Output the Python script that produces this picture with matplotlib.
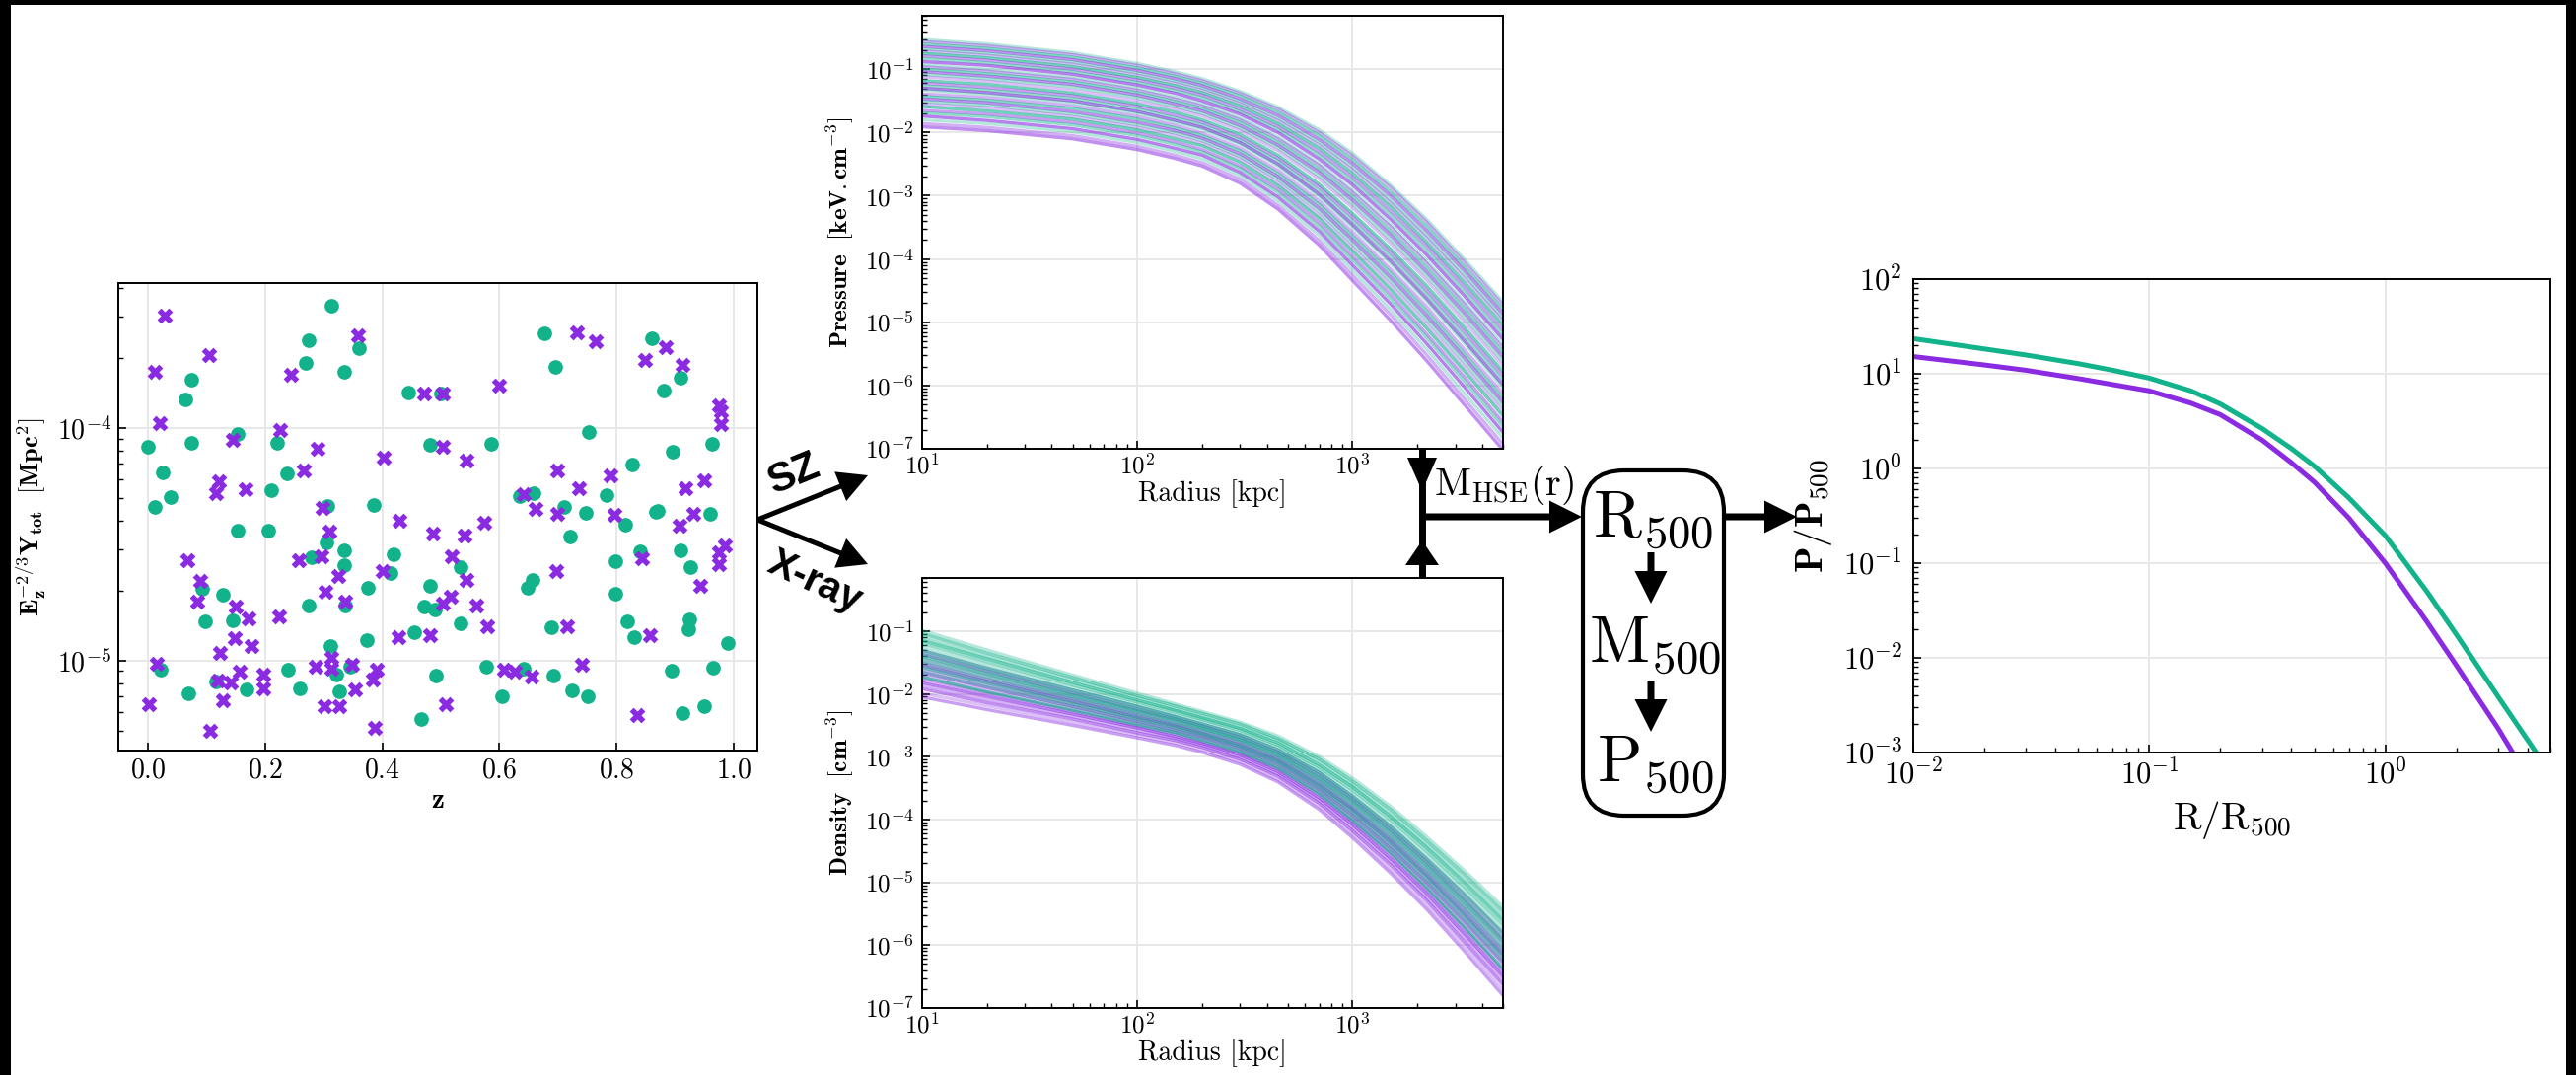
import matplotlib
matplotlib.use("Agg")
import matplotlib.pyplot as plt
import numpy as np
from matplotlib.patches import FancyArrow, FancyBboxPatch, Rectangle

plt.rcParams.update({
    "font.family": "serif",
    "font.serif": ["cmr10"],
    "mathtext.fontset": "cm",
    "axes.formatter.use_mathtext": True,
    "axes.unicode_minus": False,
    "font.size": 8,
})

TEAL = "#12b28b"
PURPLE = "#8a2be2"

# ---- scatter: (z, Y / 1e-5 Mpc^2) ----
teal_pts = [
    (0.000, 8.34), (0.012, 4.59), (0.025, 6.43), (0.039, 5.06), (0.023, 0.91),
    (0.065, 13.3), (0.075, 16.1), (0.074, 8.65), (0.069, 0.724), (0.093, 2.03),
    (0.098, 1.48), (0.128, 1.91), (0.153, 9.44), (0.154, 3.63), (0.145, 1.49),
    (0.116, 0.81), (0.168, 0.754), (0.220, 8.65), (0.210, 5.38), (0.238, 6.36),
    (0.206, 3.61), (0.239, 0.91), (0.260, 0.76), (0.270, 19.0), (0.274, 23.9),
    (0.313, 33.5), (0.335, 17.5), (0.361, 22.0), (0.307, 4.61), (0.305, 3.23),
    (0.280, 2.77), (0.274, 1.73), (0.335, 2.99), (0.336, 2.56), (0.337, 1.73),
    (0.311, 1.15), (0.322, 0.871), (0.326, 0.738), (0.346, 0.944), (0.386, 4.65),
    (0.376, 2.05), (0.374, 1.22), (0.419, 2.85), (0.414, 2.38), (0.445, 14.2),
    (0.481, 8.43), (0.500, 14.1), (0.482, 2.10), (0.472, 1.70), (0.490, 1.66),
    (0.455, 1.32), (0.492, 0.863), (0.466, 0.562), (0.533, 2.51), (0.533, 1.45),
    (0.585, 8.56), (0.578, 0.94), (0.605, 0.70), (0.634, 5.08), (0.658, 5.23),
    (0.648, 2.06), (0.656, 2.22), (0.642, 0.92), (0.689, 1.39), (0.692, 0.859),
    (0.676, 25.5), (0.695, 18.3), (0.710, 4.57), (0.721, 3.41), (0.747, 4.32),
    (0.753, 9.64), (0.724, 0.743), (0.750, 0.704), (0.782, 5.15), (0.814, 3.83),
    (0.826, 6.97), (0.798, 2.68), (0.797, 1.93), (0.818, 1.47), (0.829, 1.26),
    (0.860, 24.4), (0.881, 14.5), (0.895, 7.91), (0.867, 4.34), (0.870, 4.38),
    (0.909, 16.4), (0.908, 2.97), (0.925, 2.52), (0.924, 1.50), (0.923, 1.36),
    (0.894, 0.904), (0.913, 0.596), (0.949, 0.636), (0.965, 0.93), (0.989, 1.19),
    (0.963, 8.56), (0.959, 4.26), (0.840, 2.95),
]
purple_pts = [
    (0.029, 30.3), (0.012, 17.5), (0.020, 10.5), (0.015, 0.964), (0.002, 0.652),
    (0.104, 20.6), (0.068, 2.69), (0.090, 2.19), (0.084, 1.80), (0.121, 5.89),
    (0.116, 5.27), (0.145, 8.87), (0.167, 5.44), (0.150, 1.71), (0.149, 1.25),
    (0.172, 1.52), (0.177, 1.15), (0.123, 1.08), (0.120, 0.817), (0.142, 0.802),
    (0.129, 0.676), (0.157, 0.893), (0.107, 0.498), (0.226, 9.79), (0.245, 17.0),
    (0.267, 6.55), (0.290, 8.11), (0.258, 2.71), (0.297, 2.82), (0.298, 4.51),
    (0.310, 3.58), (0.325, 2.32), (0.303, 1.98), (0.337, 1.80), (0.198, 0.871),
    (0.198, 0.760), (0.225, 1.54), (0.314, 1.03), (0.314, 0.92), (0.301, 0.634),
    (0.327, 0.634), (0.286, 0.937), (0.358, 25.1), (0.349, 0.955), (0.353, 0.754),
    (0.390, 0.914), (0.384, 0.832), (0.387, 0.512), (0.402, 7.46), (0.401, 2.42),
    (0.429, 3.99), (0.427, 1.26), (0.471, 14.1), (0.503, 14.1), (0.503, 8.34),
    (0.487, 3.51), (0.519, 2.80), (0.517, 1.89), (0.503, 1.76), (0.482, 1.28),
    (0.508, 0.647), (0.544, 7.24), (0.543, 2.23), (0.540, 3.46), (0.560, 1.73),
    (0.574, 3.92), (0.579, 1.40), (0.599, 15.2), (0.607, 0.914), (0.626, 0.893),
    (0.641, 5.21), (0.662, 4.48), (0.654, 0.853), (0.698, 6.59), (0.698, 4.29),
    (0.697, 2.42), (0.715, 1.40), (0.732, 25.8), (0.764, 23.7), (0.736, 5.52),
    (0.740, 0.957), (0.790, 6.25), (0.796, 4.24), (0.848, 19.6), (0.883, 22.3),
    (0.913, 18.7), (0.843, 2.75), (0.856, 1.28), (0.834, 0.585), (0.918, 5.52),
    (0.931, 4.26), (0.907, 3.80), (0.949, 5.96), (0.943, 2.09), (0.975, 12.5),
    (0.977, 11.8), (0.977, 10.4), (0.974, 2.93), (0.974, 2.60), (0.984, 3.13),
]

# ---- radii [kpc] at which the profiles are tabulated ----
R_kpc = [10, 20, 50, 100, 150, 200, 300, 450, 700, 1000, 1500, 2200, 3300, 5000]

# pressure, log10 P [keV cm^-3]
logP_teal = [
    [-0.53, -0.60, -0.74, -0.91, -1.04, -1.15, -1.35, -1.60, -1.96, -2.33, -2.83, -3.37, -4.00, -4.68],
    [-0.60, -0.67, -0.81, -0.98, -1.11, -1.22, -1.42, -1.68, -2.05, -2.43, -2.94, -3.48, -4.12, -4.80],
    [-0.68, -0.75, -0.89, -1.06, -1.19, -1.30, -1.51, -1.78, -2.16, -2.55, -3.07, -3.62, -4.25, -4.94],
    [-0.75, -0.82, -0.96, -1.13, -1.26, -1.37, -1.58, -1.86, -2.25, -2.65, -3.17, -3.73, -4.37, -5.05],
    [-0.83, -0.90, -1.04, -1.21, -1.34, -1.45, -1.67, -1.95, -2.36, -2.77, -3.30, -3.86, -4.51, -5.20],
    [-0.93, -1.00, -1.13, -1.30, -1.44, -1.55, -1.77, -2.07, -2.49, -2.91, -3.45, -4.02, -4.67, -5.36],
    [-1.00, -1.07, -1.20, -1.37, -1.51, -1.62, -1.84, -2.15, -2.58, -3.01, -3.56, -4.13, -4.78, -5.48],
    [-1.08, -1.15, -1.28, -1.45, -1.59, -1.70, -1.93, -2.24, -2.69, -3.13, -3.69, -4.26, -4.92, -5.62],
    [-1.18, -1.24, -1.38, -1.55, -1.68, -1.80, -2.03, -2.36, -2.82, -3.28, -3.84, -4.42, -5.08, -5.78],
    [-1.26, -1.33, -1.46, -1.63, -1.77, -1.88, -2.12, -2.45, -2.93, -3.40, -3.96, -4.55, -5.22, -5.92],
    [-1.33, -1.40, -1.53, -1.70, -1.84, -1.95, -2.19, -2.53, -3.02, -3.50, -4.07, -4.66, -5.33, -6.04],
    [-1.43, -1.49, -1.62, -1.79, -1.93, -2.05, -2.29, -2.65, -3.14, -3.64, -4.22, -4.82, -5.50, -6.20],
    [-1.51, -1.57, -1.71, -1.88, -2.01, -2.13, -2.38, -2.74, -3.25, -3.76, -4.35, -4.95, -5.63, -6.34],
    [-1.59, -1.66, -1.79, -1.96, -2.10, -2.21, -2.47, -2.84, -3.36, -3.88, -4.48, -5.09, -5.77, -6.48],
    [-1.69, -1.75, -1.88, -2.05, -2.19, -2.31, -2.57, -2.95, -3.49, -4.02, -4.63, -5.24, -5.93, -6.65],
    [-1.80, -1.86, -1.99, -2.16, -2.30, -2.42, -2.68, -3.08, -3.63, -4.18, -4.80, -5.42, -6.12, -6.83],
]
logP_purple = [
    [-0.56, -0.63, -0.77, -0.94, -1.07, -1.18, -1.38, -1.63, -2.00, -2.37, -2.87, -3.41, -4.05, -4.73],
    [-0.64, -0.71, -0.85, -1.02, -1.15, -1.26, -1.47, -1.73, -2.11, -2.49, -3.00, -3.55, -4.18, -4.87],
    [-0.71, -0.78, -0.92, -1.09, -1.22, -1.33, -1.54, -1.81, -2.20, -2.59, -3.11, -3.66, -4.30, -4.98],
    [-0.79, -0.86, -1.00, -1.17, -1.30, -1.41, -1.63, -1.91, -2.31, -2.71, -3.24, -3.79, -4.44, -5.13],
    [-0.88, -0.94, -1.08, -1.25, -1.38, -1.50, -1.71, -2.00, -2.42, -2.83, -3.37, -3.93, -4.58, -5.27],
    [-0.96, -1.03, -1.16, -1.33, -1.47, -1.58, -1.80, -2.10, -2.52, -2.95, -3.49, -4.06, -4.71, -5.41],
    [-1.04, -1.11, -1.24, -1.41, -1.55, -1.66, -1.89, -2.20, -2.63, -3.07, -3.62, -4.20, -4.85, -5.55],
    [-1.12, -1.19, -1.33, -1.50, -1.63, -1.74, -1.97, -2.29, -2.74, -3.19, -3.75, -4.33, -4.99, -5.69],
    [-1.22, -1.29, -1.42, -1.59, -1.73, -1.84, -2.08, -2.41, -2.87, -3.34, -3.90, -4.49, -5.15, -5.85],
    [-1.30, -1.37, -1.50, -1.67, -1.81, -1.92, -2.16, -2.50, -2.98, -3.46, -4.03, -4.62, -5.29, -5.99],
    [-1.39, -1.45, -1.58, -1.75, -1.89, -2.01, -2.25, -2.60, -3.09, -3.58, -4.16, -4.75, -5.43, -6.13],
    [-1.47, -1.53, -1.67, -1.84, -1.97, -2.09, -2.34, -2.70, -3.20, -3.70, -4.29, -4.89, -5.56, -6.27],
    [-1.55, -1.61, -1.75, -1.92, -2.05, -2.17, -2.42, -2.79, -3.31, -3.82, -4.41, -5.02, -5.70, -6.41],
    [-1.65, -1.71, -1.84, -2.01, -2.15, -2.27, -2.53, -2.90, -3.43, -3.96, -4.56, -5.18, -5.86, -6.58],
    [-1.74, -1.81, -1.94, -2.11, -2.25, -2.36, -2.63, -3.02, -3.56, -4.10, -4.71, -5.33, -6.02, -6.74],
    [-1.86, -1.92, -2.05, -2.22, -2.36, -2.48, -2.74, -3.15, -3.71, -4.26, -4.88, -5.51, -6.21, -6.93],
    [-1.91, -1.97, -2.10, -2.27, -2.41, -2.53, -2.80, -3.21, -3.78, -4.34, -4.97, -5.60, -6.30, -7.02],
]

# density, log10 n [cm^-3]
logN_teal = [
    [-0.99, -1.30, -1.70, -1.99, -2.16, -2.28, -2.45, -2.67, -3.00, -3.34, -3.79, -4.27, -4.81, -5.39],
    [-1.04, -1.35, -1.74, -2.03, -2.19, -2.31, -2.48, -2.71, -3.04, -3.39, -3.84, -4.33, -4.87, -5.46],
    [-1.10, -1.40, -1.78, -2.06, -2.23, -2.35, -2.52, -2.74, -3.08, -3.44, -3.90, -4.39, -4.94, -5.53],
    [-1.15, -1.44, -1.82, -2.10, -2.26, -2.38, -2.55, -2.78, -3.13, -3.48, -3.95, -4.44, -5.00, -5.60],
    [-1.20, -1.49, -1.86, -2.13, -2.29, -2.41, -2.58, -2.82, -3.17, -3.53, -4.00, -4.50, -5.07, -5.67],
    [-1.26, -1.54, -1.90, -2.17, -2.33, -2.44, -2.62, -2.85, -3.21, -3.58, -4.06, -4.56, -5.13, -5.74],
    [-1.31, -1.59, -1.94, -2.20, -2.36, -2.48, -2.65, -2.89, -3.25, -3.63, -4.11, -4.62, -5.19, -5.81],
    [-1.36, -1.63, -1.98, -2.24, -2.39, -2.51, -2.69, -2.93, -3.29, -3.67, -4.16, -4.67, -5.26, -5.88],
    [-1.41, -1.68, -2.02, -2.27, -2.42, -2.54, -2.72, -2.96, -3.34, -3.72, -4.21, -4.73, -5.32, -5.95],
    [-1.47, -1.73, -2.06, -2.31, -2.46, -2.57, -2.75, -3.00, -3.38, -3.77, -4.27, -4.79, -5.39, -6.03],
    [-1.52, -1.78, -2.10, -2.35, -2.49, -2.61, -2.79, -3.04, -3.42, -3.82, -4.32, -4.85, -5.45, -6.10],
    [-1.58, -1.83, -2.15, -2.39, -2.53, -2.64, -2.83, -3.08, -3.47, -3.87, -4.38, -4.91, -5.53, -6.18],
    [-1.65, -1.89, -2.20, -2.43, -2.57, -2.68, -2.87, -3.12, -3.52, -3.93, -4.45, -4.98, -5.60, -6.26],
    [-1.73, -1.97, -2.26, -2.49, -2.62, -2.74, -2.92, -3.18, -3.59, -4.01, -4.53, -5.08, -5.71, -6.38],
]
logN_purple = [
    [-1.31, -1.59, -1.94, -2.20, -2.36, -2.48, -2.65, -2.89, -3.25, -3.63, -4.11, -4.62, -5.19, -5.81],
    [-1.37, -1.64, -1.99, -2.25, -2.40, -2.51, -2.69, -2.93, -3.30, -3.68, -4.17, -4.68, -5.27, -5.90],
    [-1.44, -1.70, -2.04, -2.29, -2.44, -2.55, -2.73, -2.98, -3.35, -3.74, -4.24, -4.75, -5.35, -5.98],
    [-1.50, -1.76, -2.08, -2.33, -2.48, -2.59, -2.77, -3.02, -3.40, -3.80, -4.30, -4.82, -5.42, -6.07],
    [-1.55, -1.80, -2.12, -2.37, -2.51, -2.63, -2.81, -3.06, -3.45, -3.84, -4.35, -4.88, -5.49, -6.14],
    [-1.61, -1.85, -2.16, -2.40, -2.54, -2.66, -2.84, -3.09, -3.49, -3.89, -4.41, -4.94, -5.55, -6.21],
    [-1.66, -1.90, -2.20, -2.44, -2.58, -2.69, -2.87, -3.13, -3.53, -3.94, -4.46, -5.00, -5.62, -6.28],
    [-1.71, -1.95, -2.24, -2.47, -2.61, -2.72, -2.91, -3.17, -3.57, -3.99, -4.51, -5.05, -5.68, -6.35],
    [-1.76, -1.99, -2.28, -2.51, -2.64, -2.76, -2.94, -3.20, -3.61, -4.03, -4.56, -5.11, -5.74, -6.42],
    [-1.82, -2.04, -2.32, -2.54, -2.68, -2.79, -2.97, -3.24, -3.66, -4.08, -4.62, -5.17, -5.81, -6.49],
    [-1.87, -2.09, -2.36, -2.58, -2.71, -2.82, -3.01, -3.28, -3.70, -4.13, -4.67, -5.23, -5.87, -6.56],
    [-1.92, -2.14, -2.40, -2.62, -2.74, -2.85, -3.04, -3.31, -3.74, -4.18, -4.72, -5.28, -5.94, -6.63],
    [-1.99, -2.19, -2.45, -2.66, -2.78, -2.89, -3.08, -3.36, -3.79, -4.23, -4.79, -5.35, -6.01, -6.72],
    [-2.05, -2.25, -2.50, -2.70, -2.82, -2.93, -3.12, -3.40, -3.84, -4.29, -4.85, -5.42, -6.09, -6.80],
]

# ---- scaled mean profiles ----
x_scaled = [0.01, 0.02, 0.03, 0.05, 0.07, 0.1, 0.15, 0.2, 0.3, 0.4, 0.5, 0.7,
            1.0, 1.5, 2.0, 3.0, 4.0, 5.0]
p_teal = [23.5, 18.3, 15.8, 12.8, 10.9, 9.0, 6.6, 4.8, 2.65, 1.62, 1.06, 0.49,
          0.195, 0.050, 0.0176, 0.0039, 0.00136, 0.0006]
p_purple = [15.2, 12.4, 10.9, 8.9, 7.7, 6.6, 4.9, 3.7, 2.0, 1.15, 0.72, 0.30,
            0.10, 0.024, 0.0083, 0.0018, 0.00055, 0.00022]

W, H = 2612, 1090
DPI = 200
fig = plt.figure(figsize=(W / DPI, H / DPI), dpi=DPI)


def px_axes(x0, y0, x1, y1):
    return fig.add_axes([x0 / W, 1 - y1 / H, (x1 - x0) / W, (y1 - y0) / H])


def style(ax, lsize, xpad, ypad):
    ax.tick_params(which="both", direction="in", labelsize=lsize)
    ax.tick_params(axis="x", pad=xpad)
    ax.tick_params(axis="y", pad=ypad)
    ax.tick_params(which="major", length=3, width=0.6)
    ax.tick_params(which="minor", length=1.8, width=0.5)
    ax.grid(True, which="major", color="#e8e8e8", lw=0.7)
    ax.set_axisbelow(True)
    for s in ax.spines.values():
        s.set_linewidth(0.7)


# scatter
ax1 = px_axes(120, 287, 768, 761)
z_t, y_t = zip(*teal_pts)
z_p, y_p = zip(*purple_pts)
ax1.scatter(z_t, np.array(y_t) * 1e-5, s=28, marker="o", color=TEAL, lw=0, zorder=3)
ax1.scatter(z_p, np.array(y_p) * 1e-5, s=32, marker="X", color=PURPLE, lw=0, zorder=4)
ax1.set_yscale("log")
ax1.set_xlim(-0.05, 1.04)
ax1.set_ylim(4.1e-6, 4.2e-4)
ax1.set_yticks([1e-5, 1e-4])
style(ax1, 10, 2.5, 2.5)
ax1.set_xlabel(r"$\mathbf{z}$", fontsize=10.5, labelpad=1.5)
ax1.set_ylabel(r"$\mathbf{E_z^{-2/3}Y_{tot}\ \ [Mpc^2]}$", fontsize=9.5, labelpad=3)


def profiles(ax, tab_a, tab_b):
    for i in range(max(len(tab_a), len(tab_b))):
        if i < len(tab_a):
            a = 0.3 + 0.3 * ((i * 3) % 5) / 4
            ax.plot(R_kpc, 10 ** np.array(tab_a[i]), color=TEAL, alpha=a, lw=1.2)
        if i < len(tab_b):
            b = 0.3 + 0.3 * ((i * 2 + 1) % 5) / 4
            ax.plot(R_kpc, 10 ** np.array(tab_b[i]), color=PURPLE, alpha=b, lw=1.2)
    ax.set_xscale("log")
    ax.set_yscale("log")
    ax.set_xlim(10, 5000)
    ax.set_ylim(1e-7, 0.7)
    ax.set_xticks([10, 100, 1000])
    ax.set_yticks([1e-7, 1e-6, 1e-5, 1e-4, 1e-3, 1e-2, 1e-1])
    style(ax, 9, 1.5, 3)
    ax.set_xlabel("Radius [kpc]", fontsize=10, labelpad=0.5)


ax2 = px_axes(935, 16, 1524, 455)
profiles(ax2, logP_teal, logP_purple)
ax2.set_ylabel(r"$\mathbf{Pressure\ \ [keV.cm^{-3}]}$", fontsize=9, labelpad=3)

ax3 = px_axes(935, 586, 1524, 1022)
profiles(ax3, logN_teal, logN_purple)
ax3.set_ylabel(r"$\mathbf{Density\ \ [cm^{-3}]}$", fontsize=9, labelpad=3)

# scaled profiles
ax4 = px_axes(1940, 283, 2586, 763)
ax4.plot(x_scaled, p_teal, color=TEAL, lw=1.8)
ax4.plot(x_scaled, p_purple, color=PURPLE, lw=1.8)
ax4.set_xscale("log")
ax4.set_yscale("log")
ax4.set_xlim(0.01, 5)
ax4.set_ylim(1e-3, 1e2)
ax4.set_xticks([0.01, 0.1, 1])
ax4.set_yticks([1e-3, 1e-2, 1e-1, 1, 10, 100])
style(ax4, 11, 2.5, 4)
ax4.set_xlabel(r"$\mathrm{R/R_{500}}$", fontsize=14, labelpad=3)
ax4.set_ylabel(r"$\mathbf{P/P_{500}}$", fontsize=14, labelpad=3)

# overlay in pixel units for the flow diagram
ov = fig.add_axes([0, 0, 1, 1])
ov.set_xlim(0, W)
ov.set_ylim(H, 0)
ov.axis("off")


def arrow(x0, y0, x1, y1, shaft, hw, hl):
    ov.add_patch(FancyArrow(x0, y0, x1 - x0, y1 - y0, width=shaft, head_width=hw,
                            head_length=hl, length_includes_head=True,
                            color="k", lw=0))


arrow(768, 527, 880, 482, 5, 32, 30)
arrow(768, 527, 880, 572, 5, 32, 30)
ov.text(805, 481, "SZ", rotation=22, fontsize=15, fontweight="bold",
        family="Liberation Sans", ha="center", va="center")
ov.text(826, 590, "X-ray", rotation=-25, fontsize=14.5, fontweight="bold",
        family="Liberation Sans", ha="center", va="center")

ov.plot([1442, 1442], [455, 586], color="k", lw=2.5, solid_capstyle="butt")
arrow(1442, 462, 1442, 498, 0.1, 30, 34)
arrow(1442, 573, 1442, 548, 0.1, 34, 25)
arrow(1440, 524, 1604, 524, 7, 33, 33)
arrow(1748, 524, 1822, 524, 7, 33, 33)
ov.text(1454, 502, r"$\mathrm{M_{HSE}(r)}$", fontsize=14.5, ha="left", va="baseline")

ov.add_patch(FancyBboxPatch((1605, 477), 143, 350,
                            boxstyle="round,pad=0,rounding_size=42",
                            fill=False, ec="k", lw=1.5))
arrow(1674, 560, 1674, 612, 7, 33, 33)
arrow(1674, 690, 1674, 742, 7, 33, 33)
ov.text(1676, 528, r"$\mathrm{R_{500}}$", fontsize=24, ha="center", va="center")
ov.text(1678, 655, r"$\mathrm{M_{500}}$", fontsize=24, ha="center", va="center")
ov.text(1678, 776, r"$\mathrm{P_{500}}$", fontsize=24, ha="center", va="center")

# black frame strips seen on the original
for rect in [(0, 0, W, 5), (0, 0, 11, H), (2602, 0, 10, H)]:
    ov.add_patch(Rectangle(rect[:2], rect[2], rect[3], color="k", lw=0, clip_on=False))

fig.savefig("out.png", dpi=DPI)
